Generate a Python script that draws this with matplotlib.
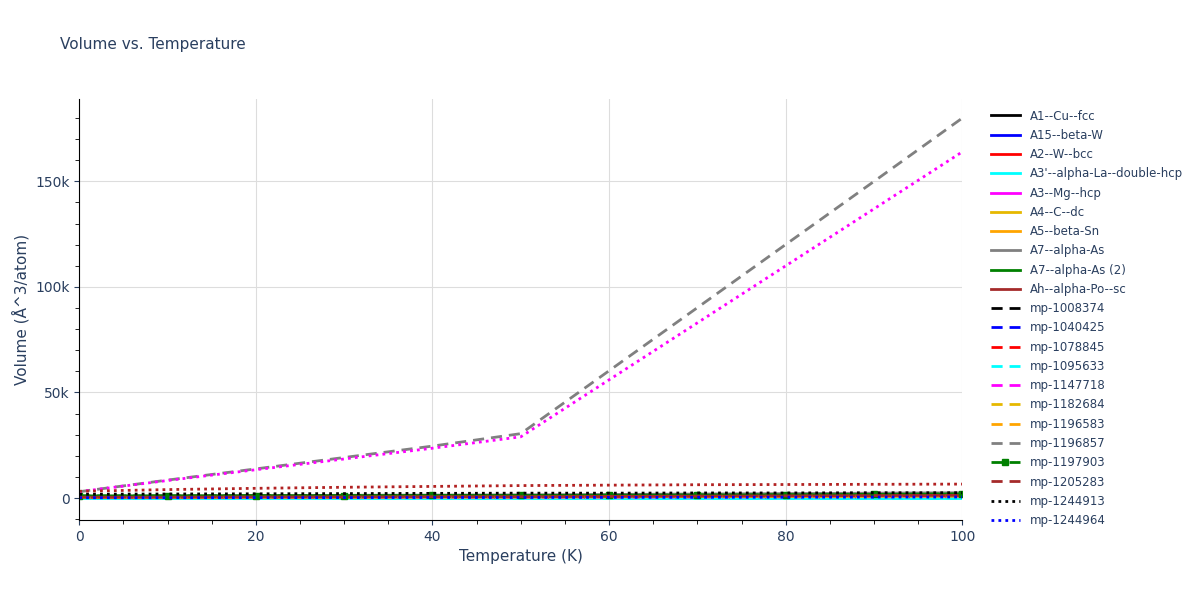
import matplotlib
matplotlib.use("Agg")
import matplotlib.pyplot as plt

T = [0, 10, 20, 30, 40, 50, 60, 70, 80, 90, 100]
gray_big = [3000, 8500, 13800, 19200, 24600, 30500, 60300, 90200, 120100, 150000, 180000]
mag_big = [3000, 8300, 13400, 18500, 23600, 29000, 56000, 83000, 110000, 137000, 164000]
red_dot = [3200, 4000, 4600, 5100, 5500, 5900, 6100, 6300, 6400, 6500, 6600]
blk_dot = [1800, 1900, 2000, 2100, 2200, 2300, 2300, 2400, 2400, 2500, 2500]
green = [1000, 1000, 1100, 1100, 1200, 1200, 1300, 1400, 1500, 1700, 1900]
gray_sm = [800, 1000, 1100, 1300, 1400, 1500, 1700, 1900, 2100, 2300, 2500]
orange = [300, 300, 400, 400, 500, 500, 600, 700, 800, 900, 1000]
cyan = [100, 100, 100, 100, 100, 100, 100, 100, 100, 100, 100]

names = ["A1--Cu--fcc","A15--beta-W","A2--W--bcc","A3'--alpha-La--double-hcp","A3--Mg--hcp",
         "A4--C--dc","A5--beta-Sn","A7--alpha-As","A7--alpha-As (2)","Ah--alpha-Po--sc",
         "mp-1008374","mp-1040425","mp-1078845","mp-1095633","mp-1147718","mp-1182684",
         "mp-1196583","mp-1196857","mp-1197903","mp-1205283","mp-1244913","mp-1244964"]
colors = ["black","blue","red","cyan","magenta","#e6b800","orange","gray","green","brown",
          "black","blue","red","cyan","magenta","#e6b800","orange","gray","green","brown","black","blue"]
styles = ["-"]*10 + ["--"]*10 + [":"]*2
data = {}
data["A1--Cu--fcc"] = [v*0.5 for v in orange]
data["A15--beta-W"] = [v*0.6 for v in orange]
data["A2--W--bcc"] = [v*0.4 for v in orange]
data["A3'--alpha-La--double-hcp"] = cyan
data["A3--Mg--hcp"] = [v*0.7 for v in orange]
data["A4--C--dc"] = orange
data["A5--beta-Sn"] = orange
data["A7--alpha-As"] = gray_sm
data["A7--alpha-As (2)"] = green
data["Ah--alpha-Po--sc"] = [v*1.2 for v in orange]
data["mp-1008374"] = [v*0.9 for v in orange]
data["mp-1040425"] = [v*0.5 for v in orange]
data["mp-1078845"] = [v*0.6 for v in orange]
data["mp-1095633"] = cyan
data["mp-1147718"] = [v*1.1 for v in orange]
data["mp-1182684"] = orange
data["mp-1196583"] = orange
data["mp-1196857"] = gray_big
data["mp-1197903"] = green
data["mp-1205283"] = [v*1.3 for v in orange]
data["mp-1244913"] = blk_dot
data["mp-1244964"] = [v*0.5 for v in orange]

fig = plt.figure(figsize=(12, 6), dpi=100)
ax = fig.add_axes([0.066, 0.133, 0.736, 0.702])
for n, c, s in zip(names, colors, styles):
    kw = {}
    if n == "mp-1197903":
        kw = dict(marker="s", markersize=4)
    dash = {"--": (0, (4, 2.5)), ":": (0, (1, 1.5)), "-": "-"}[s]
    ax.plot(T, data[n], color=c, linestyle=dash, lw=2, label=n, **kw)
ax.plot(T, mag_big, color="magenta", linestyle=(0, (1, 1.5)), lw=2)
ax.plot(T, red_dot, color="#b22222", linestyle=(0, (1, 1.5)), lw=2)
ax.set_xlim(0, 100)
ax.set_ylim(-10500, 189000)
ax.set_xticks([0, 20, 40, 60, 80, 100])
ax.set_xticks(range(0, 101, 5), minor=True)
ax.set_yticks([0, 50000, 100000, 150000])
ax.set_yticks(range(-10000, 190000, 10000), minor=True)
ax.set_yticklabels(["0", "50k", "100k", "150k"])
ax.grid(True, color="#dddddd")
for s in ["top", "right"]:
    ax.spines[s].set_visible(False)
ax.tick_params(colors="#2a3f5f", labelsize=10)
ax.tick_params(which="minor", length=3)
ax.set_xlabel("Temperature (K)", color="#2a3f5f", fontsize=11)
ax.set_ylabel("Volume (Å^3/atom)", color="#2a3f5f", fontsize=11)
fig.text(0.05, 0.918, "Volume vs. Temperature", color="#2a3f5f", fontsize=11)
leg = ax.legend(loc="upper left", bbox_to_anchor=(1.02, 1.0), frameon=False, fontsize=8.5,
                labelspacing=0.53, handlelength=2.5)
for t in leg.get_texts():
    t.set_color("#2a3f5f")
fig.savefig("out.png")
